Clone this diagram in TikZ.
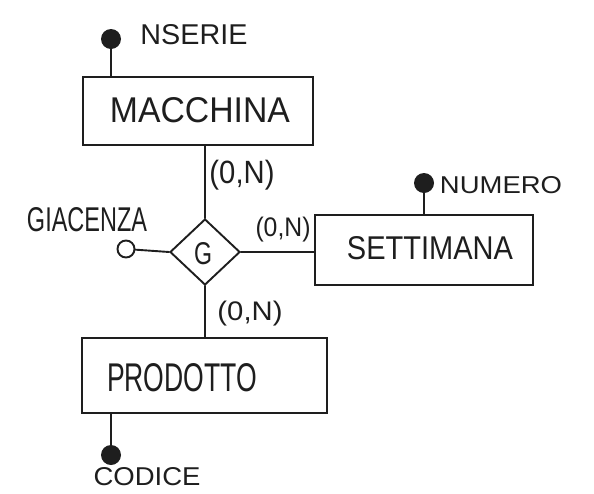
\documentclass[tikz,border=0pt]{standalone}
\usepackage{fontspec}
\setmainfont{Liberation Sans}
\usepackage{graphicx}
\usetikzlibrary{shapes.geometric}
\definecolor{inkc}{HTML}{1E1E1E}
% words stretched to a given width and height (pt)
\newcommand{\fitword}[3]{\resizebox{#1pt}{#2pt}{#3}}
\newcommand{\fitwordtot}[3]{\resizebox*{#1pt}{#2pt}{#3}}
\begin{document}
\begin{tikzpicture}[x=1pt,y=-1pt,
  ink/.style={draw=inkc, line width=1.9pt},
  entity/.style={ink, rectangle, inner sep=0pt},
  keydot/.style={circle, fill=inkc, inner sep=0pt, minimum size=20pt},
  attrdot/.style={circle, ink, inner sep=0pt, minimum size=17pt},
  word/.style={inner sep=0pt, text=inkc},
  conn/.style={ink, line cap=round}]
\useasboundingbox (0,0) rectangle (594,493);

% MACCHINA
\node[entity, minimum width=230pt, minimum height=68pt] (mac) at (198,111) {};
\node[word] (macT) at (200,110) {\fitword{180}{25}{MACCHINA}};
\node[keydot] (kNS) at (111,39) {};
\node[word] (nsT) at (194,35) {\fitword{107}{20}{NSERIE}};
\draw[conn] (kNS) -- (kNS |- mac.north);

% relationship
\node[ink, diamond, aspect=1.06, minimum width=70pt, minimum height=66pt, inner sep=0pt] (rel) at (205,252) {};
\node[word] (relT) at (203,254) {\fitword{18}{22}{G}};

% SETTIMANA
\node[entity, minimum width=218pt, minimum height=70pt] (set) at (424,250) {};
\node[word] (setT) at (430,248) {\fitword{166}{23}{SETTIMANA}};
\node[keydot] (kNU) at (424,183) {};
\node[word] (nuT) at (501,185) {\fitword{122}{17}{NUMERO}};
\draw[conn] (kNU) -- (kNU |- set.north);

% PRODOTTO
\node[entity, minimum width=245pt, minimum height=75pt] (pro) at (204.5,375.5) {};
\node[word] (proT) at (182,378) {\fitword{150}{28}{PRODOTTO}};
\node[keydot] (kCO) at (111,455) {};
\node[word] (coT) at (147,477) {\fitword{107}{18}{CODICE}};
\draw[conn] (kCO) -- (kCO |- pro.south);

% GIACENZA attribute
\node[attrdot] (giac) at (126,249) {};
\node[word] (giacT) at (87,220) {\fitword{120}{24}{GIACENZA}};

% connectors of the relationship
\draw[conn] (rel.north) -- (rel.north |- mac.south);
\draw[conn] (rel.south) -- (rel.south |- pro.north);
\draw[conn] (rel.east) -- (rel.east -| set.west);
\draw[conn] (giac) -- (rel.west);

% cardinalities
\node[word] (c1) at (242,175) {\fitwordtot{65}{30}{(0,N)}};
\node[word] (c2) at (283,230) {\fitwordtot{55}{25}{(0,N)}};
\node[word] (c3) at (250,314) {\fitwordtot{65}{25}{(0,N)}};
\end{tikzpicture}
\end{document}
